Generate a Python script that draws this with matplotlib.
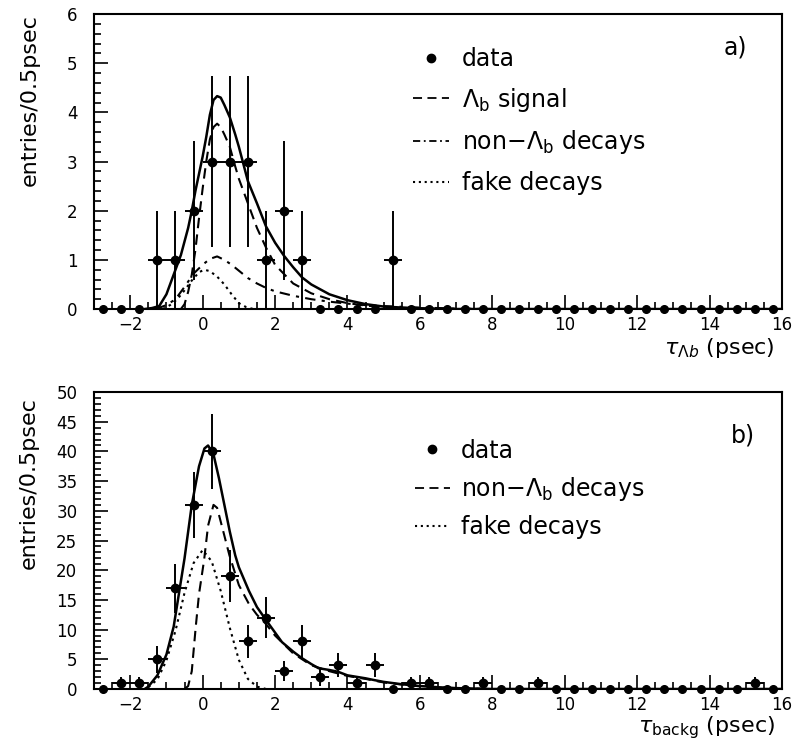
import numpy as np
import matplotlib
matplotlib.use('Agg')
import matplotlib.pyplot as plt
from matplotlib.ticker import MultipleLocator
from matplotlib.lines import Line2D

plt.rcParams['font.family'] = ['DejaVu Sans']
plt.rcParams['mathtext.fontset'] = 'dejavusans'

# bin centres (0.5 psec bins)
bins = np.arange(-2.75, 16.0, 0.5)

# panel a) entries per bin
counts_a = [0, 0, 0, 1, 1, 2, 3, 3, 3, 1, 2, 1, 0, 0, 0, 0, 1, 0, 0, 0,
            0, 0, 0, 0, 0, 0, 0, 0, 0, 0, 0, 0, 0, 0, 0, 0, 0, 0]
# panel b) entries per bin
counts_b = [0, 1, 1, 5, 17, 31, 40, 19, 8, 12, 3, 8, 2, 4, 1, 4, 0, 1, 1, 0,
            0, 1, 0, 0, 1, 0, 0, 0, 0, 0, 0, 0, 0, 0, 0, 0, 1, 0]

# panel a) fitted curves (read off the figure)
tot_a_x = [-1.6, -1.4, -1.2, -1.0, -0.8, -0.6, -0.4, -0.3, -0.2, -0.1, 0.0, 0.1, 0.2,
           0.3, 0.4, 0.5, 0.6, 0.75, 0.9, 1.0, 1.25, 1.5, 1.75, 2.0, 2.25, 2.5, 2.75,
           3.0, 3.5, 4.0, 4.5, 5.0, 5.5, 6.0, 7.0, 16.0]
tot_a_y = [0.0, 0.02, 0.06, 0.3, 0.7, 1.1, 1.65, 2.0, 2.4, 2.75, 3.1, 3.5, 3.95,
           4.25, 4.33, 4.3, 4.15, 3.9, 3.55, 3.3, 2.6, 2.15, 1.68, 1.35, 1.08, 0.85, 0.64,
           0.5, 0.3, 0.18, 0.1, 0.05, 0.03, 0.015, 0.0, 0.0]

sig_a_x = [-0.6, -0.5, -0.4, -0.3, -0.2, -0.1, 0.0, 0.1, 0.2, 0.3, 0.4, 0.5, 0.6,
           0.75, 0.9, 1.0, 1.25, 1.5, 1.75, 2.0, 2.5, 3.0, 3.5, 4.0, 4.5, 5.0, 6.0, 7.0]
sig_a_y = [0.0, 0.1, 0.35, 0.7, 1.2, 1.85, 2.45, 3.0, 3.45, 3.7, 3.77, 3.7, 3.55,
           3.3, 2.9, 2.65, 2.15, 1.65, 1.25, 0.9, 0.52, 0.32, 0.2, 0.12, 0.07, 0.04, 0.01, 0.0]

non_a_x = [-1.3, -1.0, -0.75, -0.5, -0.25, 0.0, 0.2, 0.4, 0.6, 0.8, 1.0, 1.25, 1.5,
           1.75, 2.0, 2.5, 3.0, 3.5, 4.0, 4.5, 5.0, 6.0, 7.0, 8.0]
non_a_y = [0.0, 0.08, 0.2, 0.45, 0.72, 0.9, 1.02, 1.07, 1.0, 0.9, 0.78, 0.63, 0.52,
           0.43, 0.36, 0.27, 0.2, 0.15, 0.11, 0.08, 0.06, 0.03, 0.01, 0.0]

fake_a_x = [-1.1, -0.9, -0.7, -0.5, -0.3, -0.1, 0.05, 0.2, 0.4, 0.6, 0.8, 1.0, 1.2, 1.4]
fake_a_y = [0.0, 0.08, 0.2, 0.38, 0.58, 0.75, 0.8, 0.77, 0.66, 0.5, 0.3, 0.12, 0.04, 0.0]

# panel b) fitted curves
tot_b_x = [-1.6, -1.5, -1.25, -1.0, -0.8, -0.5, -0.3, -0.1, 0.05, 0.15, 0.3, 0.45,
           0.6, 0.75, 0.9, 1.0, 1.28, 1.5, 1.74, 2.0, 2.19, 2.5, 2.74, 3.0, 3.2, 3.5,
           3.74, 4.0, 4.5, 4.74, 5.0, 5.5, 6.0, 6.5, 7.0, 8.0, 16.0]
tot_b_y = [0.0, 0.4, 2.3, 5.8, 10.5, 22.0, 31.0, 37.5, 40.5, 41.0, 39.5, 35.5,
           31.0, 26.5, 22.5, 20.5, 16.5, 13.8, 11.7, 9.5, 7.9, 6.3, 5.2, 4.2, 3.5, 3.2,
           2.9, 2.3, 1.8, 1.5, 1.2, 0.8, 0.5, 0.3, 0.15, 0.0, 0.0]

non_b_x = [-0.5, -0.4, -0.3, -0.19, -0.1, 0.04, 0.15, 0.3, 0.4, 0.55, 0.74, 1.0,
           1.28, 1.5, 1.74, 2.0, 2.5, 3.0, 3.5, 4.0, 4.5, 5.0, 5.5, 6.0, 6.5, 7.0, 8.0]
non_b_y = [0.0, 0.5, 3.0, 10.5, 16.0, 21.7, 27.5, 31.0, 30.5, 27.0, 22.5, 17.5,
           14.3, 12.5, 11.0, 9.0, 6.0, 4.0, 3.0, 2.2, 1.7, 1.1, 0.75, 0.45, 0.28, 0.14, 0.0]

fake_b_x = [-1.5, -1.25, -1.0, -0.75, -0.5, -0.25, 0.0, 0.25, 0.5, 0.75, 1.0, 1.25,
            1.5, 1.75]
fake_b_y = [0.3, 1.6, 4.8, 9.8, 16.2, 21.2, 23.4, 21.5, 16.5, 10.3, 4.9, 1.7,
            0.4, 0.0]


def draw_data(ax, counts):
    c = np.array(counts, dtype=float)
    nz = c > 0
    ax.errorbar(bins[nz], c[nz], yerr=np.sqrt(c[nz]), xerr=0.25, fmt='o',
                color='black', ms=6, elinewidth=1.4, capsize=0, zorder=5)
    ax.plot(bins[~nz], c[~nz], 'o', color='black', ms=5.5, zorder=5, clip_on=False)


def style_axis(ax, ymax, ymajor, yminor):
    ax.set_xlim(-3, 16)
    ax.set_ylim(0, ymax)
    ax.xaxis.set_major_locator(MultipleLocator(2))
    ax.xaxis.set_minor_locator(MultipleLocator(0.5))
    ax.yaxis.set_major_locator(MultipleLocator(ymajor))
    ax.yaxis.set_minor_locator(MultipleLocator(yminor))
    ax.tick_params(which='both', direction='in', top=False, right=False, width=1.2)
    ax.tick_params(which='major', length=10, labelsize=12)
    ax.tick_params(which='minor', length=5)
    ax.tick_params(axis='y', pad=12)
    ax.tick_params(axis='x', pad=5)
    for s in ax.spines.values():
        s.set_linewidth(1.5)


fig = plt.figure(figsize=(7.94, 7.49), dpi=100)
ax1 = fig.add_axes([0.1184, 0.5874, 0.8665, 0.3939])
ax2 = fig.add_axes([0.1184, 0.0801, 0.8665, 0.3965])

# panel a)
ax1.plot(tot_a_x, tot_a_y, '-', color='black', lw=1.8)
ax1.plot(sig_a_x, sig_a_y, color='black', lw=1.5, dashes=(5, 3))
ax1.plot(non_a_x, non_a_y, color='black', lw=1.5, dashes=(5, 3, 1.5, 3))
ax1.plot(fake_a_x, fake_a_y, color='black', lw=1.5, dashes=(1.2, 2))
draw_data(ax1, counts_a)
style_axis(ax1, 6, 1, 0.2)

h1 = [Line2D([], [], ls='none', marker='o', color='black', ms=6),
      Line2D([], [], color='black', lw=1.3, dashes=(5, 3)),
      Line2D([], [], color='black', lw=1.3, dashes=(4, 2, 1, 2)),
      Line2D([], [], color='black', lw=1.5, dashes=(1, 1.8))]
l1 = ['data', r'$\Lambda_{\rm b}$ signal', r'non$-\Lambda_{\rm b}$ decays', 'fake decays']
ax1.legend(h1, l1, loc='upper left', bbox_to_anchor=(0.433, 0.96), frameon=False,
           fontsize=17, handlelength=1.5, handletextpad=0.55, labelspacing=0.62)
ax1.text(0.915, 0.885, 'a)', transform=ax1.transAxes, fontsize=17, ha='left', va='center')
ax1.text(0.99, -0.09, r'$\tau_{\Lambda b}$ (psec)', transform=ax1.transAxes,
         fontsize=16, ha='right', va='top')

# panel b)
ax2.plot(tot_b_x, tot_b_y, '-', color='black', lw=1.8)
ax2.plot(non_b_x, non_b_y, color='black', lw=1.5, dashes=(5, 3))
ax2.plot(fake_b_x, fake_b_y, color='black', lw=1.5, dashes=(1.2, 2))
draw_data(ax2, counts_b)
style_axis(ax2, 50, 5, 1)

h2 = [Line2D([], [], ls='none', marker='o', color='black', ms=6),
      Line2D([], [], color='black', lw=1.3, dashes=(5, 3)),
      Line2D([], [], color='black', lw=1.5, dashes=(1, 1.8))]
l2 = ['data', r'non$-\Lambda_{\rm b}$ decays', 'fake decays']
ax2.legend(h2, l2, loc='upper left', bbox_to_anchor=(0.435, 0.915), frameon=False,
           fontsize=17, handlelength=1.5, handletextpad=0.45, labelspacing=0.52)
ax2.text(0.925, 0.855, 'b)', transform=ax2.transAxes, fontsize=17, ha='left', va='center')
ax2.text(0.99, -0.085, r'$\tau_{\rm backg}$ (psec)', transform=ax2.transAxes,
         fontsize=16, ha='right', va='top')

fig.text(30 / 794, 1 - 100 / 749, 'entries/0.5psec', rotation=90, fontsize=16,
         ha='center', va='center')
fig.text(29 / 794, 1 - 483 / 749, 'entries/0.5psec', rotation=90, fontsize=16,
         ha='center', va='center')

fig.savefig('out.png', dpi=100)
